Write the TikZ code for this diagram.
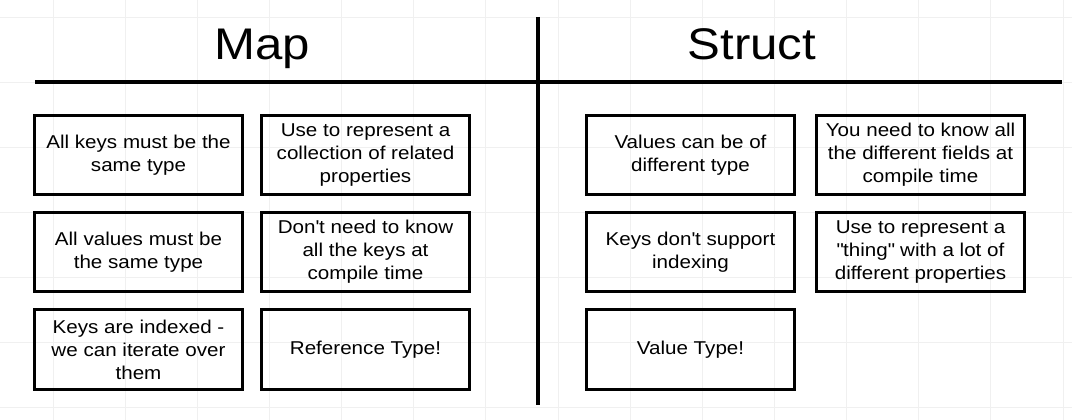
\documentclass[tikz,border=0pt]{standalone}
\usepackage{fontspec}
\setmainfont[FakeStretch=1.11]{Liberation Sans}
\begin{document}
\begin{tikzpicture}[
	x=0.025cm, y=-0.025cm,
	card/.style = {draw, line width=2pt, minimum width=5.2cm, minimum height=1.98cm,
		align=center, inner sep=2pt, font=\fontsize{13.2}{16.3}\selectfont},
	heading/.style = {anchor=base, font=\fontsize{31.5}{36}\selectfont},
	rule/.style = {line width=3.2pt}]
	
	\def \gx {72.14} % grid step across
	\def \gy {65}    % grid step down
	
	\fill[white] (0,0) rectangle (1072,420);
	\useasboundingbox (0,0) rectangle (1072,420);
	\foreach \i in {0,...,14}
	{
		\draw[black!6, line width=0.5pt] ({53+\gx*\i},0) -- ({53+\gx*\i},420);
	}
	\foreach \j in {0,...,6}
	{
		\draw[black!6, line width=0.5pt] (0,{17+\gy*\j}) -- (1072,{17+\gy*\j});
	}
	
	\node[heading] (map) at (262,60) {Map};
	\node[heading] (struct) at (752,60) {Struct};
	\draw[rule] (35,82) -- (1062,82);
	\draw[rule] (538,17) -- (538,405);
	
	% map side
	\node[card] (m11) at (138.5,155) {All keys must be the\\same type};
	\node[card] (m12) at (365.5,155) {Use to represent a\\collection of related\\properties};
	\node[card] (m21) at (138.5,252) {All values must be\\the same type};
	\node[card] (m22) at (365.5,252) {Don\textquotesingle t need to know\\all the keys at\\compile time};
	\node[card] (m31) at (138.5,349.5) {Keys are indexed -\\we can iterate over\\them};
	\node[card] (m32) at (365.5,349.5) {Reference Type!};
	
	% struct side
	\node[card] (s11) at (690.5,155) {Values can be of\\different type};
	\node[card] (s12) at (920.5,155) {You need to know all\\the different fields at\\compile time};
	\node[card] (s21) at (690.5,252) {Keys don\textquotesingle t support\\indexing};
	\node[card] (s22) at (920.5,252) {Use to represent a\\\textquotedbl thing\textquotedbl{} with a lot of\\different properties};
	\node[card] (s31) at (690.5,349.5) {Value Type!};
\end{tikzpicture}
\end{document}
